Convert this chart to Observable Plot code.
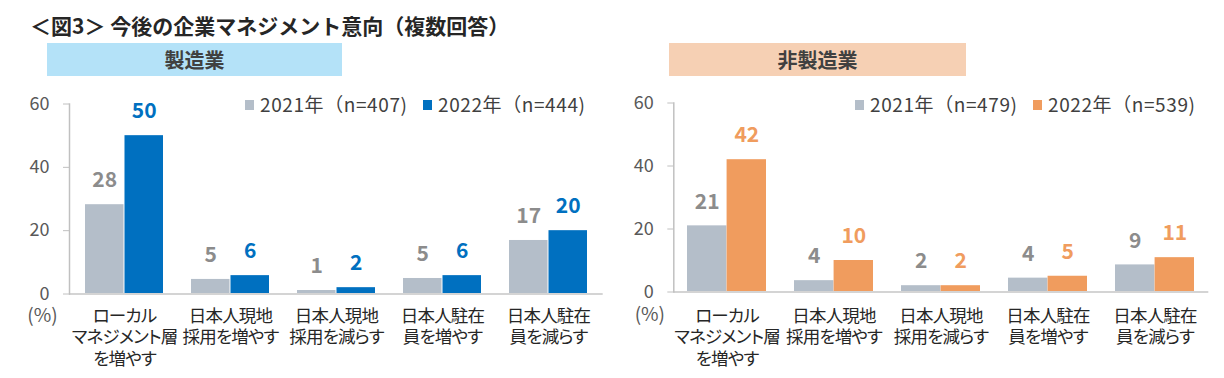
<!DOCTYPE html>
<html>
<head>
<meta charset="utf-8">
<script src="https://cdn.jsdelivr.net/npm/d3@7"></script>
<script src="https://cdn.jsdelivr.net/npm/@observablehq/plot@0.6"></script>
<style>
  html, body { margin: 0; padding: 0; background: #fff; }
  #root { position: relative; width: 1224px; height: 378px; overflow: hidden; background: #fff;
    font-family: "Noto Sans CJK JP", "Noto Sans", sans-serif; }
  .abs { position: absolute; }
  .title { left: 30px; top: 13px; font-size: 21px; font-weight: bold; color: #262626; line-height: 24px; white-space: nowrap; }
  .hdr { top: 43px; height: 33px; line-height: 33px; text-align: center; font-size: 20px; font-weight: bold; color: #404040; }
  .leg { font-size: 19px; color: #404040; line-height: 20px; white-space: nowrap; letter-spacing: 0.6px; }
  .sw { width: 9px; height: 10px; }
  svg { overflow: visible; }
  #root svg g[aria-label="x-axis tick label"] text { letter-spacing: -0.8px; }
</style>
</head>
<body>
<div id="root"></div>
<script>
const titleText = "＜図3＞ 今後の企業マネジメント意向（複数回答）";
const panelTitles = ["製造業", "非製造業"];
const categories = [
  "ローカル\nマネジメント層\nを増やす",
  "日本人現地\n採用を増やす",
  "日本人現地\n採用を減らす",
  "日本人駐在\n員を増やす",
  "日本人駐在\n員を減らす"
];
const mfgSeries = ["2021年（n=407)", "2022年（n=444)"];
const nonSeries = ["2021年（n=479)", "2022年（n=539)"];
const mfg2021 = [28.2, 4.6, 1.1, 4.9, 16.9];
const mfg2022 = [50.0, 5.8, 2.0, 5.8, 20.0];
const non2021 = [21.0, 3.6, 2.0, 4.4, 8.6];
const non2022 = [42.0, 10.0, 2.0, 5.0, 10.9];
const yTicks = [0, 20, 40, 60];
const unitLabel = "(%)";

const root = document.getElementById("root");
function div(cls, css, text) {
  const d = document.createElement("div");
  d.className = "abs " + cls;
  Object.assign(d.style, css);
  if (text != null) d.textContent = text;
  root.appendChild(d);
  return d;
}

div("title", {}, titleText);
div("hdr", {left: "47px", width: "295px", background: "#b4e2f8"}, panelTitles[0]);
div("hdr", {left: "669px", width: "297px", background: "#f6d0b4"}, panelTitles[1]);

const GRAY = "#b4bec9";
const GRAY_TXT = "#8c8c8c";

function panel(opt) {
  const {left, top, width, height, ml, mr, mt, mb, a, b, colB, padBottom, pctDx, pctDy} = opt;
  const rows = categories.map((c, i) => ({cat: c, a: a[i], b: b[i]}));
  const pi = 0.26, po = 0.13;
  const step = (width - ml - mr) / (categories.length - pi + 2 * po);
  const bw = step * (1 - pi);
  const chart = Plot.plot({
    width, height,
    marginLeft: ml, marginRight: mr, marginTop: mt, marginBottom: mb,
    style: "font-family: 'Noto Sans CJK JP', 'Noto Sans', sans-serif; font-feature-settings: 'palt'; background: transparent; overflow: visible;",
    x: {domain: categories, type: "band", paddingInner: pi, paddingOuter: po, axis: null},
    y: {domain: [0, 60], axis: null},
    marks: [
      Plot.barY(rows, {x: "cat", y: "a", fill: GRAY, insetRight: bw / 2}),
      Plot.barY(rows, {x: "cat", y: "b", fill: colB, insetLeft: bw / 2}),
      Plot.ruleY([0], {stroke: "#d4d4d4", strokeWidth: 1.8}),
      Plot.frame({anchor: "left", stroke: "#c0c0c0", strokeWidth: 1.5}),
      Plot.axisY({ticks: yTicks, tickSize: 6, tickPadding: 14, stroke: "#c0c0c0", fill: "#595959", fontSize: 18, label: null}),
      Plot.axisX({tickSize: 0, tickPadding: padBottom, fontSize: 17.5, fill: "#262626", lineHeight: 1.25, label: null}),
      Plot.text(rows, {x: "cat", y: "a", text: d => Math.round(d.a), dx: -bw / 4, dy: -24, fill: GRAY_TXT, fontSize: 21, fontWeight: "bold"}),
      Plot.text(rows, {x: "cat", y: "b", text: d => Math.round(d.b), dx: bw / 4, dy: -24, fill: colB, fontSize: 21, fontWeight: "bold"}),
      Plot.text([unitLabel], {text: d => d, frameAnchor: "bottom-left", textAnchor: "middle", lineAnchor: "middle", dx: pctDx, dy: pctDy, fontSize: 19, fill: "#595959"})
    ]
  });
  chart.style.position = "absolute";
  chart.style.left = left + "px";
  chart.style.top = top + "px";
  root.appendChild(chart);
}

panel({left: 0, top: 90, width: 610, height: 288, ml: 69, mr: 7.3, mt: 13.5, mb: 84.5,
  a: mfg2021, b: mfg2022, colB: "#0070c0", padBottom: 12, pctDx: -27, pctDy: 22});
panel({left: 610, top: 90, width: 614, height: 288, ml: 63.3, mr: 15.7, mt: 12.5, mb: 86.5,
  a: non2021, b: non2022, colB: "#f09c5e", padBottom: 14, pctDx: -24, pctDy: 23});

function legend(items, colors, positions) {
  items.forEach((t, i) => {
    div("sw", {left: positions[i] + "px", top: "100px", background: colors[i]});
    div("leg", {left: (positions[i] + 15) + "px", top: "94px"}, t);
  });
}
legend(mfgSeries, [GRAY, "#0070c0"], [245, 423]);
legend(nonSeries, [GRAY, "#f09c5e"], [855, 1033]);
</script>
</body>
</html>
